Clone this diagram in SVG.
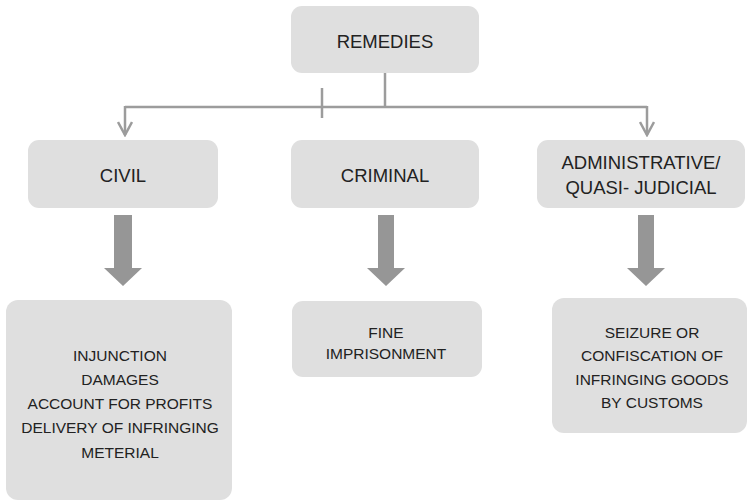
<svg xmlns="http://www.w3.org/2000/svg" width="747" height="503" viewBox="0 0 747 503">
<style>
.box{fill:#dfdfdf;}
.t{font-family:"Liberation Sans",Arial,sans-serif;fill:#222;text-anchor:middle;}
.h{font-size:18.5px;}
.c{font-size:15.5px;}
.ln{stroke:#9c9c9c;stroke-width:2.5;fill:none;}
.blk{fill:#969696;}
</style>
<defs>
<marker id="chev" viewBox="0 0 16 16" refX="14" refY="8" markerWidth="16" markerHeight="16" markerUnits="userSpaceOnUse" orient="auto">
<path d="M1,1 L14,8 L1,15" fill="none" stroke="#9c9c9c" stroke-width="2.5"/>
</marker>
</defs>
<g id="connectors">
<path class="ln" d="M385,73 V107"/>
<path class="ln" d="M125,107 H647"/>
<path class="ln" d="M322,88 V118"/>
<path class="ln" d="M125,106 V135" marker-end="url(#chev)"/>
<path class="ln" d="M647,106 V135" marker-end="url(#chev)"/>
<polygon class="blk" points="114,215 132,215 132,268 142,268 123,286 104,268 114,268"/>
<polygon class="blk" points="378,215 394,215 394,268 405,268 386,286 367,268 378,268"/>
<polygon class="blk" points="638,215 654,215 654,268 665,268 646,286 627,268 638,268"/>
</g>
<g id="remedies">
<rect class="box" x="291" y="6" width="188" height="67" rx="11"/>
<text class="t h" x="385" y="48">REMEDIES</text>
</g>
<g id="civil">
<rect class="box" x="28" y="140" width="190" height="68" rx="11"/>
<text class="t h" x="123" y="182">CIVIL</text>
</g>
<g id="criminal">
<rect class="box" x="291" y="140" width="188" height="68" rx="11"/>
<text class="t h" x="385" y="182">CRIMINAL</text>
</g>
<g id="administrative">
<rect class="box" x="537" y="140" width="208" height="68" rx="11"/>
<text class="t h" x="641" y="169">ADMINISTRATIVE/</text>
<text class="t h" x="641" y="194">QUASI- JUDICIAL</text>
</g>
<g id="civil-remedies">
<rect class="box" x="6" y="300" width="226" height="200" rx="12"/>
<text class="t c" x="120" y="361">INJUNCTION</text>
<text class="t c" x="120" y="385">DAMAGES</text>
<text class="t c" x="120" y="409">ACCOUNT FOR PROFITS</text>
<text class="t c" x="120" y="433">DELIVERY OF INFRINGING</text>
<text class="t c" x="120" y="458">METERIAL</text>
</g>
<g id="criminal-remedies">
<rect class="box" x="292" y="301" width="190" height="76" rx="11"/>
<text class="t c" x="386" y="338">FINE</text>
<text class="t c" x="386" y="359">IMPRISONMENT</text>
</g>
<g id="admin-remedies">
<rect class="box" x="552" y="298" width="195" height="135" rx="12"/>
<text class="t c" x="652" y="338">SEIZURE OR</text>
<text class="t c" x="652" y="361">CONFISCATION OF</text>
<text class="t c" x="652" y="385">INFRINGING GOODS</text>
<text class="t c" x="652" y="408">BY CUSTOMS</text>
</g>
</svg>
